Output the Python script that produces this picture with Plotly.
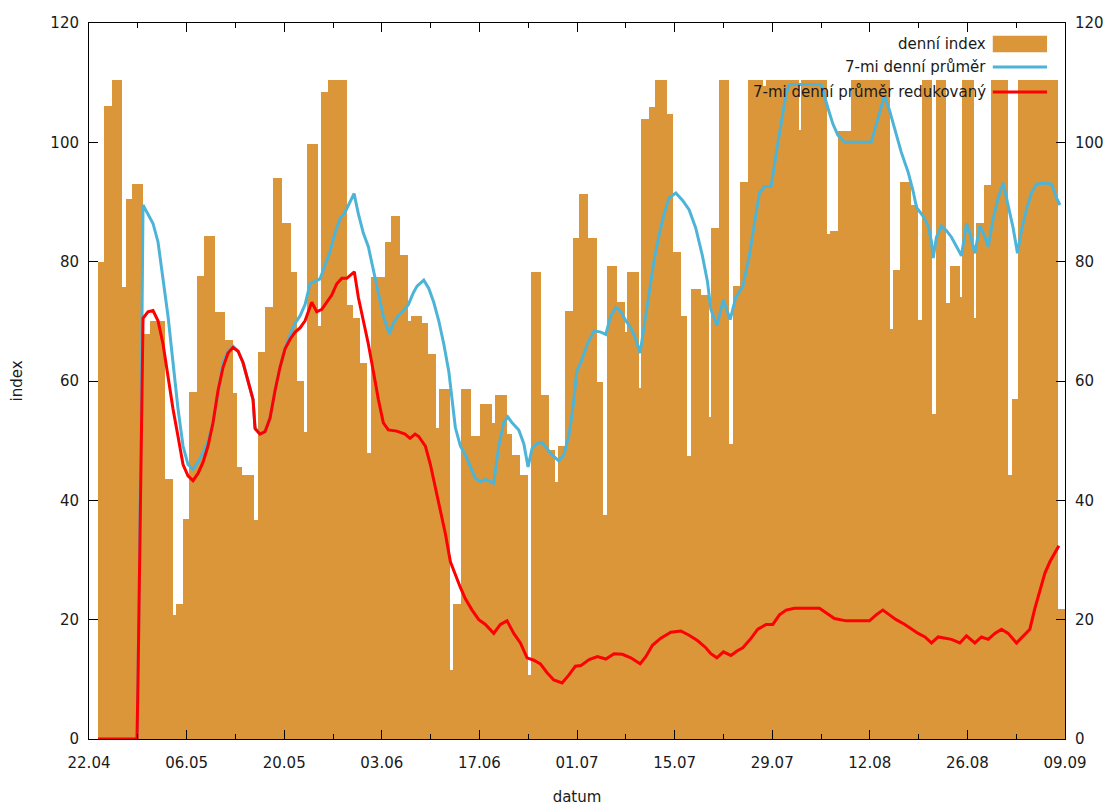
import pandas as pd
import plotly.graph_objects as go

start_date = pd.Timestamp("2020-04-22")
end_date = pd.Timestamp("2020-09-09")

# denní index: start of each box (days after 22.04) and its value
bar_start = [
    1.29, 2.15, 3.30, 4.73, 5.35, 6.21, 7.75, 8.80, 10.86, 12.05,
    12.44, 13.49, 14.30, 15.50, 16.50, 18.04, 19.56, 20.66, 21.16, 21.95,
    23.67, 24.29, 25.25, 26.36, 27.73, 28.94, 29.80, 30.89, 31.23, 32.90,
    33.29, 34.33, 36.97, 37.83, 38.88, 39.84, 40.42, 42.47, 43.33, 44.62,
    45.81, 46.20, 47.78, 48.64, 49.83, 50.17, 51.84, 52.18, 53.37, 54.81,
    56.14, 57.82, 58.21, 59.97, 60.69, 61.88, 62.94, 63.41, 64.85, 65.95,
    66.82, 67.29, 68.25, 69.44, 70.30, 71.64, 72.84, 73.79, 74.28, 75.71,
    76.86, 77.23, 78.91, 79.24, 80.34, 81.21, 82.89, 83.79, 84.98, 85.84,
    86.33, 87.76, 88.95, 89.28, 90.39, 91.82, 92.44, 93.40, 94.51, 96.66,
    97.09, 101.82, 102.15, 105.84, 106.31, 107.42, 109.33, 114.92, 115.39, 116.28,
    117.98, 118.94, 119.51, 120.85, 121.48, 122.91, 123.49, 124.92, 125.25, 126.97,
    127.30, 128.41, 129.37, 131.85, 132.42, 133.29, 139.03,
]
bar_last_end = 139.99
bar_value = [
    80.0, 106.1, 110.5, 75.7, 90.5, 93.0, 67.8, 70.0, 43.5, 20.8,
    22.6, 36.8, 58.1, 77.6, 84.3, 71.5, 66.8, 58.0, 45.6, 44.2,
    36.7, 64.8, 72.4, 94.0, 86.4, 78.2, 60.0, 51.5, 99.8, 69.3,
    108.4, 110.5, 72.8, 70.5, 63.1, 48.0, 77.5, 83.3, 87.6, 81.1,
    70.1, 70.9, 69.7, 64.5, 52.1, 58.7, 11.5, 22.7, 58.7, 50.7,
    56.1, 53.0, 57.7, 51.1, 47.6, 44.3, 10.7, 78.2, 57.7, 48.4,
    43.0, 49.1, 71.8, 83.9, 91.4, 83.9, 59.8, 37.6, 79.2, 73.2,
    68.2, 78.2, 58.8, 103.9, 106.0, 110.5, 104.8, 81.6, 70.9, 47.4,
    75.5, 74.4, 54.0, 85.6, 110.5, 49.5, 76.0, 93.4, 110.5, 109.5,
    110.5, 102.1, 110.5, 84.7, 85.2, 101.9, 110.5, 68.7, 78.6, 93.4,
    89.5, 70.2, 110.5, 54.4, 110.5, 73.1, 79.2, 74.0, 110.5, 70.5,
    86.4, 92.8, 110.5, 44.3, 57.0, 110.5, 21.8,
]

# 7-mi denní průměr
avg_day = [
    1.29, 6.89, 7.03, 7.25, 7.46, 7.75, 8.46, 9.18, 9.90, 10.62,
    11.33, 12.05, 12.77, 13.49, 14.20, 14.92, 15.64, 16.36, 17.07, 17.79,
    18.51, 19.23, 19.94, 20.66, 21.38, 22.09, 22.81, 23.53, 23.82, 24.53,
    25.25, 25.97, 26.69, 27.40, 28.12, 28.84, 29.56, 30.27, 30.99, 31.71,
    32.42, 33.14, 33.86, 34.58, 35.29, 36.01, 36.73, 37.45, 38.02, 38.64,
    39.35, 40.07, 40.79, 41.51, 42.22, 43.08, 43.66, 44.38, 45.09, 45.81,
    46.53, 47.06, 48.02, 48.74, 49.45, 50.17, 50.89, 51.61, 52.08, 52.55,
    53.27, 53.99, 54.71, 55.42, 56.14, 56.86, 58.06, 58.78, 59.50, 60.07,
    60.69, 61.65, 62.37, 62.98, 63.56, 64.28, 64.99, 65.71, 66.43, 67.39,
    68.11, 68.82, 69.40, 69.97, 70.55, 71.49, 72.45, 73.41, 74.13, 74.85,
    75.57, 76.28, 77.00, 77.72, 78.44, 79.05, 79.63, 80.34, 81.06, 81.78,
    82.50, 83.21, 84.18, 85.12, 86.08, 87.04, 87.99, 88.71, 89.20, 90.06,
    91.00, 91.97, 92.78, 93.79, 94.73, 95.45, 96.17, 96.89, 97.85, 98.57,
    99.28, 100.00, 100.47, 105.02, 105.98, 106.70, 107.42, 108.36, 112.20, 113.16,
    114.10, 114.82, 115.54, 116.50, 117.50, 118.22, 118.70, 119.66, 120.37, 120.85,
    121.09, 121.56, 122.28, 123.00, 123.72, 124.43, 125.15, 125.87, 126.36, 127.07,
    127.79, 128.41, 128.98, 129.70, 130.42, 131.13, 131.85, 132.57, 133.18, 133.75,
    134.47, 135.19, 135.91, 137.12, 138.06, 138.78, 139.27,
]
avg_value = [
    0, 0, 10, 30, 52, 89.5, 88.0, 86.4, 83.3, 77.1,
    70.9, 63.1, 55.3, 49.1, 46.0, 45.2, 46.4, 48.0, 49.9, 53.0,
    58.4, 63.1, 65.0, 65.8, 65.0, 63.1, 60.0, 56.9, 52.2, 51.1,
    51.5, 53.8, 58.4, 62.3, 65.4, 67.8, 69.7, 70.9, 72.8, 76.3,
    76.7, 77.1, 79.4, 81.7, 84.8, 87.2, 88.3, 89.9, 91.4, 88.0,
    84.8, 82.5, 78.6, 74.8, 70.9, 67.9, 69.7, 71.0, 71.8, 72.8,
    74.8, 75.9, 76.9, 75.5, 73.2, 70.1, 66.2, 61.6, 56.9, 52.2,
    49.1, 47.6, 45.6, 43.7, 43.1, 43.5, 42.9, 49.1, 53.0, 54.0,
    53.0, 51.8, 49.5, 45.6, 48.7, 49.5, 49.7, 48.7, 47.6, 46.6,
    47.6, 50.7, 55.3, 61.6, 63.1, 66.2, 68.4, 68.2, 67.8, 70.9,
    72.3, 71.7, 70.1, 68.9, 67.0, 64.7, 69.3, 74.8, 80.2, 84.5,
    88.0, 90.7, 91.5, 90.3, 88.7, 85.6, 81.0, 76.7, 72.0, 69.3,
    73.6, 70.3, 74.0, 75.9, 81.0, 86.4, 91.5, 92.6, 92.6, 98.1,
    103.5, 108.2, 109.7, 109.7, 105.8, 103.1, 101.2, 100.0, 100.0, 103.9,
    107.8, 105.4, 102.3, 98.4, 95.0, 91.8, 89.1, 87.6, 86.0, 83.3,
    80.6, 84.1, 86.0, 85.2, 84.1, 82.5, 81.0, 86.4, 84.8, 81.4,
    86.0, 84.5, 82.5, 87.2, 90.7, 93.2, 89.5, 85.6, 81.4, 85.2,
    88.7, 91.5, 93.0, 93.2, 93.0, 90.7, 89.5,
]

# 7-mi denní průměr redukovaný
red_day = [
    1.29, 6.89, 7.03, 7.25, 7.46, 7.75, 8.46, 9.18, 9.90, 10.62,
    11.33, 12.05, 12.77, 13.49, 14.20, 14.92, 15.64, 16.36, 17.07, 17.79,
    18.51, 19.23, 19.94, 20.66, 21.38, 22.09, 22.81, 23.53, 23.82, 24.53,
    25.25, 25.97, 26.69, 27.40, 28.12, 28.84, 29.56, 30.27, 30.99, 31.95,
    32.67, 33.39, 34.10, 34.82, 35.54, 36.26, 36.97, 38.06, 38.64, 39.35,
    40.07, 40.79, 41.51, 42.22, 42.94, 44.15, 45.34, 46.05, 46.77, 47.30,
    48.25, 48.97, 49.68, 50.40, 51.12, 51.84, 52.55, 53.27, 53.99, 54.95,
    55.91, 56.86, 58.06, 59.01, 59.97, 60.93, 61.88, 62.84, 63.80, 64.75,
    65.71, 66.67, 67.86, 68.82, 69.77, 70.55, 71.74, 72.93, 74.13, 75.32,
    76.51, 77.72, 79.05, 79.87, 80.82, 82.02, 83.46, 84.89, 86.08, 87.27,
    88.48, 89.20, 90.06, 91.00, 92.07, 93.01, 93.79, 94.98, 95.94, 97.13,
    98.09, 99.04, 100.00, 101.19, 104.78, 105.74, 106.93, 108.61, 111.95, 112.91,
    113.87, 114.82, 115.78, 117.03, 117.98, 118.94, 119.91, 120.85, 121.81, 122.77,
    123.72, 124.92, 125.87, 127.07, 128.02, 128.98, 129.94, 130.89, 131.85, 133.04,
    134.00, 134.96, 135.68, 136.40, 137.12, 137.83, 138.55, 139.12,
]
red_value = [
    0, 0, 10, 30, 52, 70.5, 71.6, 71.8, 70.1, 66.2,
    60.8, 55.3, 50.7, 46.0, 44.1, 43.3, 44.5, 46.4, 49.1, 53.0,
    58.4, 62.3, 64.7, 65.6, 65.0, 63.1, 60.0, 56.9, 52.0, 51.1,
    51.5, 53.8, 58.4, 62.3, 65.4, 67.0, 68.2, 68.9, 70.1, 73.2,
    71.6, 72.0, 73.2, 74.4, 76.3, 77.2, 77.2, 78.3, 74.0, 70.1,
    66.2, 61.6, 56.9, 53.0, 51.8, 51.6, 51.1, 50.4, 51.1, 50.7,
    49.1, 46.0, 42.1, 38.3, 34.4, 29.7, 27.4, 25.4, 23.5, 21.6,
    20.0, 19.2, 17.7, 19.2, 19.8, 17.7, 16.1, 13.6, 13.2, 12.6,
    11.1, 9.9, 9.4, 10.7, 12.2, 12.3, 13.3, 13.8, 13.4, 14.3,
    14.2, 13.6, 12.6, 13.8, 15.7, 16.9, 17.9, 18.1, 17.4, 16.5,
    15.3, 14.3, 13.6, 14.6, 14.0, 14.8, 15.3, 16.9, 18.4, 19.2,
    19.2, 20.8, 21.6, 21.9, 21.9, 21.2, 20.2, 19.8, 19.8, 20.8,
    21.6, 20.8, 20.0, 19.2, 18.4, 17.7, 17.1, 16.1, 17.1, 16.9,
    16.7, 16.1, 17.3, 16.1, 17.1, 16.7, 17.7, 18.4, 17.7, 16.1,
    17.3, 18.4, 21.9, 25.0, 27.8, 29.7, 31.3, 32.4,
]

series_names = ["denní index", "7-mi denní průměr", "7-mi denní průměr redukovaný"]
y_ticks = [0, 20, 40, 60, 80, 100, 120]

BAR_COLOR = "#da9639"
BLUE = "#4db4d7"
RED = "#ff0000"
FONT = "DejaVu Sans"
TXT = "#1a1a1a"

DAY_MS = 86400000


def to_date(days):
    return start_date + pd.to_timedelta(pd.Series(days, dtype=float), unit="D")


starts = pd.Series(bar_start, dtype=float)
ends = pd.Series(bar_start[1:] + [bar_last_end], dtype=float)
centers = to_date((starts + ends) / 2)
widths = ((ends - starts) * DAY_MS).tolist()

fig = go.Figure()
fig.add_trace(go.Bar(
    x=centers, y=bar_value, width=widths, name=series_names[0],
    marker=dict(color=BAR_COLOR, line=dict(width=0)), showlegend=False,
))
fig.add_trace(go.Scatter(
    x=to_date(avg_day), y=avg_value, mode="lines", name=series_names[1],
    line=dict(color=BLUE, width=3), showlegend=False,
))
fig.add_trace(go.Scatter(
    x=to_date(red_day), y=red_value, mode="lines", name=series_names[2],
    line=dict(color=RED, width=3), showlegend=False, yaxis="y2",
))

axis_font = dict(family=FONT, size=15, color=TXT)

fig.update_layout(
    width=1113, height=805,
    margin=dict(l=81, r=56, t=15, b=74),
    paper_bgcolor="white", plot_bgcolor="white",
    font=dict(family=FONT, size=15, color=TXT),
    bargap=0,
    showlegend=False,
    xaxis=dict(
        type="date",
        range=[start_date, end_date],
        tick0=start_date, dtick=14 * DAY_MS, tickformat="%d.%m",
        ticks="inside", ticklen=9, tickwidth=1, tickcolor="black",
        minor=dict(ticks="inside", ticklen=5, tickwidth=1, tickcolor="black",
                   dtick=7 * DAY_MS, tick0=start_date, showgrid=False),
        showline=True, linecolor="black", linewidth=1, mirror="ticks",
        showgrid=False, zeroline=False,
        tickfont=axis_font, ticklabelstandoff=10,
        title=dict(text="datum", font=axis_font, standoff=20),
        automargin=False,
    ),
    yaxis=dict(
        range=[0, 120], tickvals=y_ticks,
        ticks="inside", ticklen=9, tickwidth=1, tickcolor="black",
        showline=True, linecolor="black", linewidth=1, mirror="ticks",
        showgrid=False, zeroline=False,
        tickfont=axis_font, ticklabelstandoff=6,
        title=dict(text="index", font=axis_font, standoff=26),
        automargin=False,
    ),
    yaxis2=dict(
        range=[0, 120], tickvals=y_ticks, overlaying="y", side="right",
        ticks="inside", ticklen=9, tickwidth=1, tickcolor="black",
        showline=False, showgrid=False, zeroline=False,
        tickfont=axis_font, ticklabelstandoff=9,
        automargin=False,
    ),
)

# gnuplot-style key: text right-aligned, sample to the right of the text
key_rows_y = [0.9707, 0.9385, 0.9036]
key_text_x = 0.921
key_sample_x0, key_sample_x1 = 0.926, 0.9816
for name, yy in zip(series_names, key_rows_y):
    fig.add_annotation(
        x=key_text_x, y=yy, xref="paper", yref="paper",
        text=name, showarrow=False, xanchor="right", yanchor="middle",
        font=dict(family=FONT, size=15, color=TXT),
    )
fig.add_shape(type="rect", xref="paper", yref="paper",
              x0=key_sample_x0, x1=key_sample_x1,
              y0=key_rows_y[0] - 0.0115, y1=key_rows_y[0] + 0.0115,
              fillcolor=BAR_COLOR, line=dict(width=0))
fig.add_shape(type="line", xref="paper", yref="paper",
              x0=key_sample_x0, x1=key_sample_x1, y0=key_rows_y[1], y1=key_rows_y[1],
              line=dict(color=BLUE, width=3))
fig.add_shape(type="line", xref="paper", yref="paper",
              x0=key_sample_x0, x1=key_sample_x1, y0=key_rows_y[2], y1=key_rows_y[2],
              line=dict(color=RED, width=3))

fig.write_html("out.html")
